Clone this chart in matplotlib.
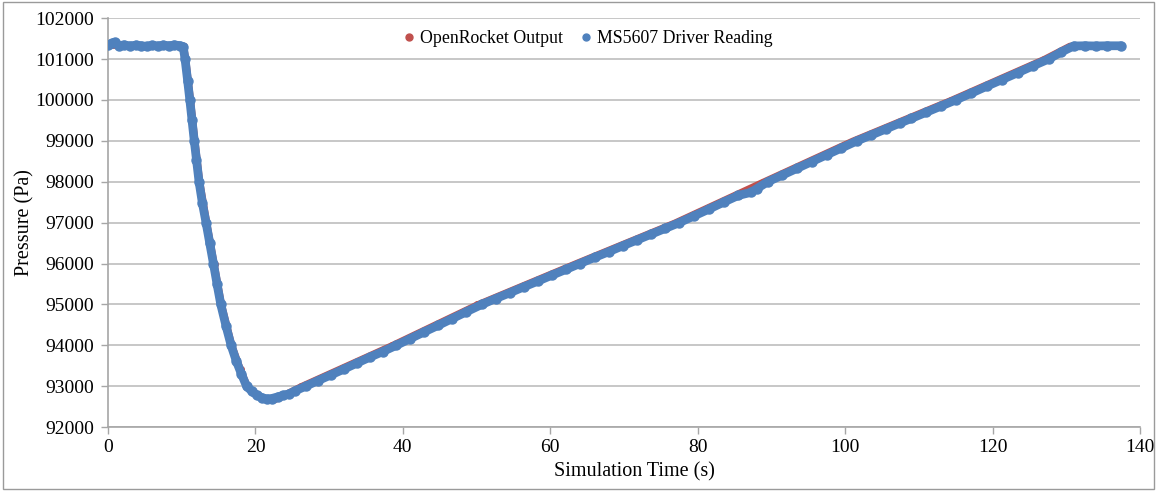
import matplotlib
matplotlib.use("Agg")
import matplotlib.pyplot as plt
from matplotlib.lines import Line2D
from matplotlib.patches import Rectangle

plt.rcParams['font.family'] = ['Liberation Serif', 'DejaVu Serif']

# MS5607 driver reading (blue)
time_ms5607 = [
    0.0, 0.6, 1.0, 1.5, 2.2, 3.0, 3.8, 4.5, 5.3, 6.0, 6.8, 7.5, 8.3, 9.0, 9.7, 10.2,
    10.45, 10.8, 11.1, 11.4, 11.7, 12.0, 12.35, 12.8, 13.3, 13.8, 14.3, 14.8, 15.3,
    16.0, 16.7, 17.4, 18.1, 18.8, 19.5, 20.2, 20.9, 21.5, 22.2, 23.0, 23.8, 24.5,
    25.4, 26.8, 28.5, 30.2, 32.0, 33.8, 35.5, 37.3, 39.1, 41.0, 42.9, 44.8, 46.7,
    48.6, 50.7, 52.6, 54.5, 56.4, 58.3, 60.2, 62.1, 64.0, 66.0, 68.0, 69.9, 71.8,
    73.7, 75.6, 77.5, 79.5, 81.5, 83.5, 85.5, 87.2, 88.0, 89.5, 91.5, 93.5, 95.5,
    97.5, 99.5, 101.6, 103.5, 105.5, 107.5, 109.0, 111.0, 113.0, 115.0, 117.1,
    119.2, 121.3, 123.4, 125.5, 127.6, 129.3, 131.0, 132.5, 134.0, 135.5, 137.4,
]
pressure_ms5607 = [
    101350, 101390, 101410, 101330, 101345, 101320, 101340, 101325, 101310, 101335,
    101320, 101340, 101325, 101345, 101330, 101300,
    101000, 100470, 100000, 99500, 99000, 98540, 98000, 97480, 97000, 96500, 96000,
    95490, 95000, 94480, 94000, 93620, 93300, 93000, 92880, 92780, 92720, 92690,
    92700, 92740, 92780, 92810, 92890, 93000, 93140, 93275, 93420, 93570, 93710,
    93850, 94000, 94165, 94330, 94490, 94655, 94820, 95000, 95145, 95285, 95430,
    95570, 95715, 95855, 96000, 96150, 96295, 96440, 96580, 96720, 96860, 97000,
    97165, 97330, 97500, 97665, 97740, 97830, 98000, 98165, 98330, 98495, 98660,
    98825, 99000, 99140, 99290, 99440, 99550, 99700, 99850, 100000, 100165, 100335,
    100500, 100665, 100835, 101000, 101170, 101320, 101325, 101320, 101325, 101325,
]

# OpenRocket simulation output (red)
time_openrocket = [
    0.0, 5.0, 10.3, 10.6, 11.25, 11.85, 12.5, 13.45, 14.45, 15.45, 16.85, 18.0,
    18.95, 20.3, 21.6, 22.6, 24.0, 26.2, 38.5, 50.1, 63.4, 76.9, 88.9, 101.0,
    114.4, 127.0, 130.5, 137.4,
]
pressure_openrocket = [
    101325, 101325, 101325, 101000, 100000, 99000, 98000, 97000, 96000, 95000,
    94000, 93420, 93000, 92770, 92690, 92700, 92800, 93000, 94000, 95000, 96000,
    97000, 98000, 99000, 100000, 101000, 101325, 101325,
]

x_ticks = [0, 20, 40, 60, 80, 100, 120, 140]
y_ticks = list(range(92000, 102001, 1000))

red = '#C0504D'
blue = '#4F81BD'
grey = '#a6a6a6'

fig = plt.figure(figsize=(11.59, 4.91), dpi=100)
ax = fig.add_axes([0.0932, 0.130, 0.8904, 0.833])

# dense excel-style markers
ax.plot(time_openrocket, pressure_openrocket, color=red, lw=4.5, marker='o', ms=4,
        solid_capstyle='round', solid_joinstyle='round', zorder=3)
ax.plot(time_ms5607, pressure_ms5607, color=blue, lw=6.3, marker='o', ms=6.5,
        solid_capstyle='round', solid_joinstyle='round', zorder=4)

ax.set_xlim(0, 140)
ax.set_ylim(92000, 102000)
ax.set_xticks(x_ticks)
ax.set_yticks(y_ticks)
ax.tick_params(axis='both', labelsize=14, colors=grey, labelcolor='black',
               length=5, width=1)
ax.tick_params(axis='y', pad=5)
ax.grid(axis='y', color='#bdbdbd', lw=1.2)
ax.set_axisbelow(True)
for s in ['top', 'right']:
    ax.spines[s].set_visible(False)
for s in ['left', 'bottom']:
    ax.spines[s].set_color(grey)
    ax.spines[s].set_linewidth(1.2)

ax.set_xlabel('Simulation Time (s)', fontsize=14.5)
ax.set_ylabel('Pressure (Pa)', fontsize=14.5)
ax.xaxis.set_label_coords(0.51, -0.085)
ax.yaxis.set_label_coords(-0.071, 0.5)

handles = [
    Line2D([], [], ls='none', marker='o', ms=5, color=red),
    Line2D([], [], ls='none', marker='o', ms=5, color=blue),
]
fig.legend(handles, ['OpenRocket Output', 'MS5607 Driver Reading'], loc='center',
           bbox_to_anchor=(0.506, 0.922), ncol=2, frameon=False, fontsize=12.8,
           handletextpad=0.1, columnspacing=0.8, handlelength=1.0)

# outer chart border
fig.add_artist(Rectangle((0.003, 0.004), 0.993, 0.991, transform=fig.transFigure,
                         fill=False, ec='#9a9a9a', lw=1))

fig.savefig('out.png', dpi=100)
